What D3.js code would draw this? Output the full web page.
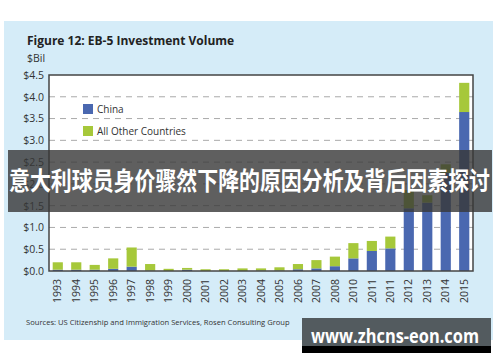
<!DOCTYPE html>
<html>
<head>
<meta charset="utf-8">
<script src="https://cdn.jsdelivr.net/npm/d3@7"></script>
<style>
  body { margin: 0; background: #fff; }
  svg { display: block; font-family: "Open Sans", "Liberation Sans", sans-serif; }
</style>
</head>
<body>
<svg id="chart" width="500" height="362"></svg>
<script>
// years as printed (the source repeats 2011 and skips 2009)
var years = ['1993','1994','1995','1996','1997','1998','1999','2000','2001','2002','2003',
             '2004','2005','2006','2007','2008','2010','2011','2011','2012','2013','2014','2015'];
var china = [0.03,0.03,0.03,0.05,0.10,0.01,0.00,0.03,0.00,0.00,0.00,
             0.01,0.01,0.04,0.06,0.11,0.29,0.46,0.52,1.44,1.57,2.25,3.65];
var others = [0.17,0.17,0.11,0.24,0.44,0.15,0.05,0.04,0.04,0.04,0.06,
              0.05,0.075,0.12,0.19,0.22,0.35,0.23,0.27,0.42,0.17,0.20,0.67];
var yTicks = [0,0.5,1,1.5,2,2.5,3,3.5,4,4.5];
var legendItems = ['China', 'All Other Countries'];
var colors = ['#4a68b0', '#a6c83a'];

var svg = d3.select('#chart');

// light blue panel
svg.append('rect').attr('x', 4).attr('y', 21).attr('width', 489).attr('height', 319)
  .attr('fill', '#d5ecf8');

svg.append('text').attr('x', 27).attr('y', 45)
  .attr('font-size', 12).attr('font-weight', 'bold').attr('fill', '#222')
  .text('Figure 12: EB-5 Investment Volume');
svg.append('text').attr('x', 27).attr('y', 62)
  .attr('font-size', 10.5).attr('fill', '#333').text('$Bil');

var pLeft = 49, pRight = 473, pTop = 75, pBottom = 271;

var x = d3.scaleBand().domain(d3.range(years.length)).range([pLeft, pRight]).paddingInner(0.45).paddingOuter(0.2),
    y = d3.scaleLinear().domain([0, 4.5]).range([pBottom, pTop]);

svg.append('rect').attr('x', pLeft).attr('y', pTop)
  .attr('width', pRight - pLeft).attr('height', pBottom - pTop).attr('fill', '#fff');

// grid
svg.selectAll('.grid').data(yTicks.slice(1, -1)).enter()
  .append('line').attr('class', 'grid')
  .attr('x1', pLeft).attr('x2', pRight)
  .attr('y1', function(d) { return y(d); }).attr('y2', function(d) { return y(d); })
  .attr('stroke', '#aaa').attr('stroke-width', 1).attr('stroke-dasharray', '6,5');

// bars
var rows = years.map(function(d, i) { return { i: i, china: china[i], others: others[i] }; });
var stacked = d3.stack().keys(['china', 'others'])(rows);
svg.selectAll('.layer').data(stacked).enter()
  .append('g').attr('class', 'layer')
  .attr('fill', function(d, i) { return colors[i]; })
  .selectAll('rect').data(function(d) { return d; }).enter()
  .append('rect')
    .attr('x', function(d) { return x(d.data.i); })
    .attr('width', x.bandwidth())
    .attr('y', function(d) { return y(d[1]); })
    .attr('height', function(d) { return y(d[0]) - y(d[1]); });

// frame
svg.append('rect').attr('x', pLeft).attr('y', pTop)
  .attr('width', pRight - pLeft).attr('height', pBottom - pTop)
  .attr('fill', 'none').attr('stroke', '#444').attr('stroke-width', 1.5);

// y axis
var yAxis = svg.append('g').attr('transform', 'translate(' + pLeft + ',0)')
  .call(d3.axisLeft(y).tickValues(yTicks).tickSize(0).tickPadding(5)
    .tickFormat(function(d) { return '$' + d.toFixed(1); }));
yAxis.select('.domain').remove();
yAxis.selectAll('text').attr('font-size', 10.5).attr('fill', '#333')
  .attr('font-family', '"Open Sans", sans-serif');

// x axis
var xAxis = svg.append('g').attr('transform', 'translate(0,' + pBottom + ')')
  .call(d3.axisBottom(x).tickSize(0).tickFormat(function(i) { return years[i]; }));
xAxis.select('.domain').remove();
xAxis.selectAll('text')
  .attr('font-size', 10.5).attr('fill', '#333').attr('font-family', '"Open Sans", sans-serif')
  .attr('text-anchor', 'end').attr('dy', '0.35em')
  .attr('transform', 'translate(0,8) rotate(-90)')
  .attr('x', 0).attr('y', 0);

// legend
var legend = svg.selectAll('.legend').data(legendItems).enter()
  .append('g').attr('class', 'legend')
  .attr('transform', function(d, i) { return 'translate(83,' + (104 + i * 22) + ')'; });
legend.append('rect').attr('width', 10).attr('height', 10)
  .attr('fill', function(d, i) { return colors[i]; });
legend.append('text').attr('x', 14).attr('y', 5).attr('dy', '0.35em')
  .attr('font-size', 10).attr('fill', '#333').attr('font-family', '"Liberation Sans Narrow", "Open Sans", sans-serif')
  .text(function(d) { return d; });

svg.append('text').attr('x', 26).attr('y', 325)
  .attr('font-size', 7.6).attr('fill', '#333')
  .text('Sources: US Citizenship and Immigration Services, Rosen Consulting Group');

// overlay banner
svg.append('rect').attr('x', 8).attr('y', 150).attr('width', 484).attr('height', 62)
  .attr('fill', 'rgba(55,55,55,0.8)');
svg.append('text').attr('x', 9).attr('y', 190)
  .attr('font-size', 25).attr('font-weight', 'bold').attr('fill', '#fff')
  .attr('font-family', '"Noto Sans CJK SC", sans-serif')
  .attr('textLength', 481).attr('lengthAdjust', 'spacingAndGlyphs')
  .text('意大利球员身价骤然下降的原因分析及背后因素探讨');

// watermark box
svg.append('rect').attr('x', 302).attr('y', 318).attr('width', 189).attr('height', 35).attr('fill', '#535b5f');
svg.append('rect').attr('x', 302).attr('y', 346).attr('width', 189).attr('height', 7).attr('fill', '#000');
svg.append('text').attr('x', 311).attr('y', 343)
  .attr('font-size', 19).attr('font-weight', 'bold').attr('fill', '#fff')
  .attr('font-family', '"Open Sans", sans-serif')
  .attr('textLength', 168).attr('lengthAdjust', 'spacingAndGlyphs')
  .text('www.zhcns-eon.com');
</script>
</body>
</html>
